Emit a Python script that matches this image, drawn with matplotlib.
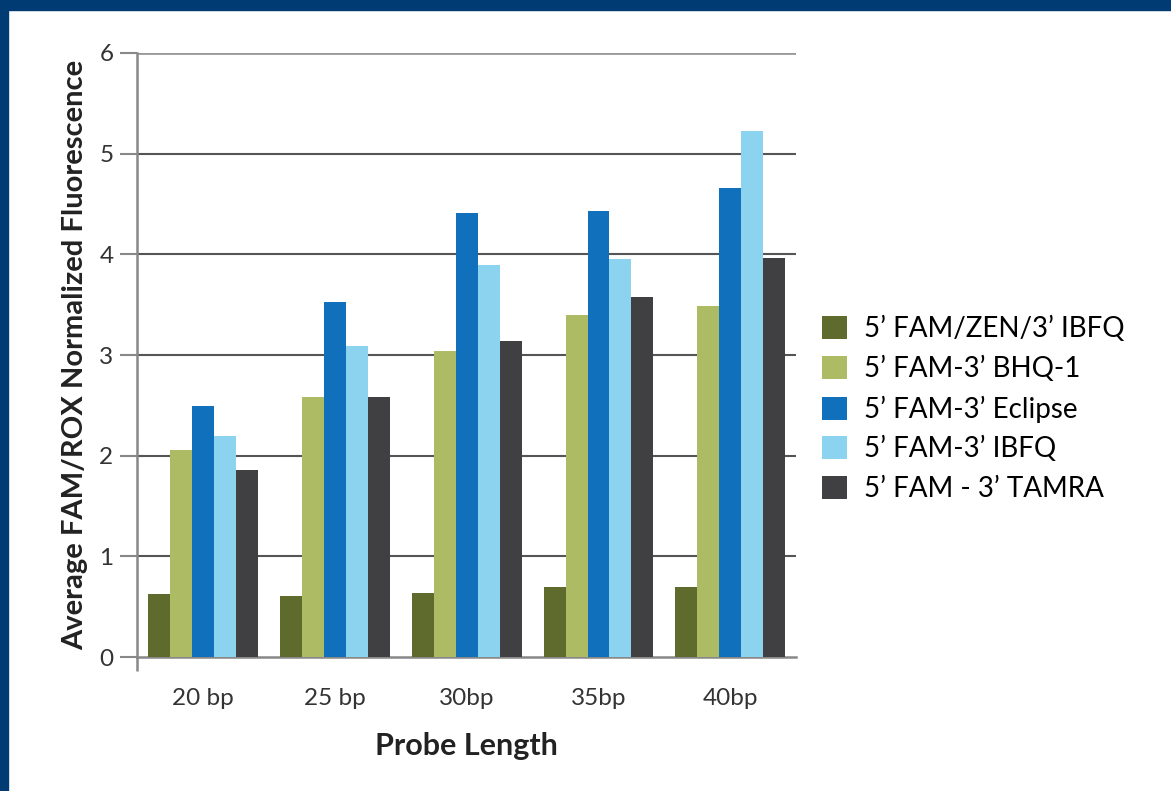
import matplotlib.pyplot as plt
import numpy as np
from matplotlib.patches import Rectangle

plt.rcParams['font.family'] = ['Lato', 'DejaVu Sans']

categories = ['20 bp', '25 bp', '30bp', '35bp', '40bp']
series_names = ["5\u2019 FAM/ZEN/3\u2019 IBFQ", "5\u2019 FAM-3\u2019 BHQ-1", "5\u2019 FAM-3\u2019 Eclipse",
                "5\u2019 FAM-3\u2019 IBFQ", "5\u2019 FAM - 3\u2019 TAMRA"]
zen_ibfq = [0.63, 0.61, 0.64, 0.70, 0.70]
bhq1 = [2.06, 2.58, 3.04, 3.40, 3.49]
eclipse = [2.49, 3.53, 4.41, 4.43, 4.66]
ibfq = [2.20, 3.09, 3.89, 3.95, 5.23]
tamra = [1.86, 2.58, 3.14, 3.58, 3.96]
colors = ['#5f6b2d', '#adbb64', '#1070bb', '#8bd3ee', '#404043']

fig = plt.figure(figsize=(11.71, 7.91), dpi=100)
# dark blue frame at top and left
fig.patches.append(Rectangle((0, 1 - 10 / 791), 1, 10 / 791, transform=fig.transFigure,
                             color='#003b73', zorder=0))
fig.patches.append(Rectangle((0, 0), 8 / 1171, 1, transform=fig.transFigure,
                             color='#003b73', zorder=0))

ax = fig.add_axes([0.117, 0.1694, 0.563, 0.7636])
x = np.arange(len(categories))
w = 1 / 6
for i, vals in enumerate([zen_ibfq, bhq1, eclipse, ibfq, tamra]):
    ax.bar(x + (i - 2) * w, vals, width=w, color=colors[i], label=series_names[i], zorder=3)

ax.set_xlim(-0.5, 4.5)
ax.set_ylim(0, 6)
ax.set_yticks(range(7))
for y in range(1, 6):
    ax.axhline(y, color='#555555', lw=1.5, zorder=1)
ax.axhline(6, color='#999999', lw=2, zorder=1)

for s in ['top', 'right']:
    ax.spines[s].set_visible(False)
ax.spines['left'].set_color('#888888')
ax.spines['bottom'].set_color('#888888')
ax.spines['left'].set_linewidth(1.8)
ax.spines['bottom'].set_linewidth(1.8)

ax.set_xticks(x)
ax.set_xticklabels(categories, fontsize=17.5, color='#333333')
ax.tick_params(axis='x', length=0, pad=22)
ax.set_xticks([-0.5], minor=True)
ax.tick_params(axis='x', which='minor', length=10, width=1.8, color='#888888')
ax.tick_params(axis='y', length=12, width=1.5, color='#888888', labelsize=17.5,
               labelcolor='#333333', pad=5)

ax.set_xlabel('Probe Length', fontsize=22, fontweight='bold', color='#222222', labelpad=17)
ax.set_ylabel('Average FAM/ROX Normalized Fluorescence', fontsize=21, fontweight='bold',
              color='#222222', labelpad=8)

ax.legend(loc='center left', bbox_to_anchor=(0.681, 0.483), bbox_transform=fig.transFigure,
          frameon=False, fontsize=20, handlelength=0.9, handleheight=0.9,
          labelspacing=0.48, handletextpad=0.6)

fig.savefig('out.png', dpi=100)
